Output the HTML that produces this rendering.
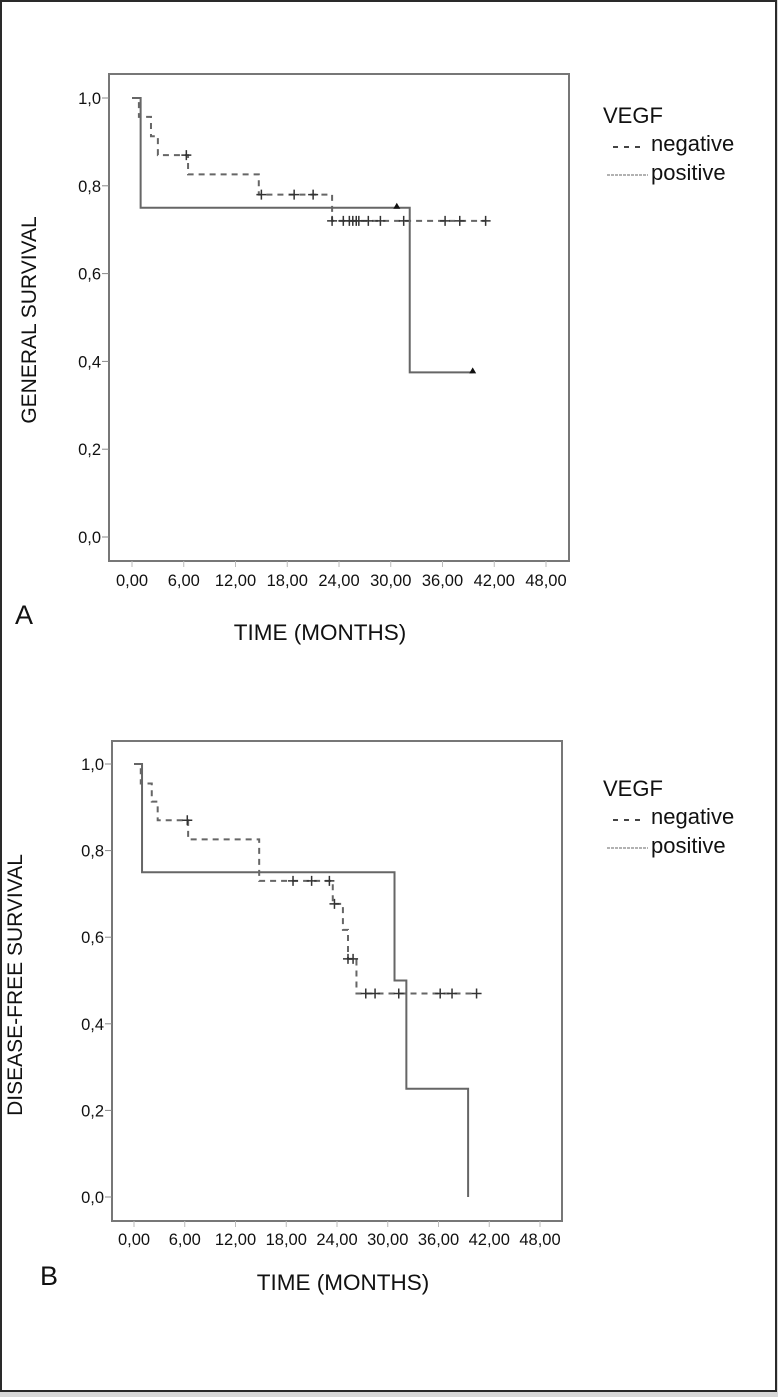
<!DOCTYPE html>
<html><head><meta charset="utf-8">
<style>
html,body{margin:0;padding:0;background:#d8d8d8;}
#wrap{position:relative;width:778px;height:1397px;}
svg{position:absolute;left:0;top:0;font-family:"Liberation Sans",Arial,sans-serif;}
</style></head>
<body>
<div id="wrap">
<svg id="fig" width="778" height="1397" viewBox="0 0 778 1397">
<rect x="1" y="1" width="775" height="1390" fill="#fff" stroke="#2a2a2a" stroke-width="2"/>
</svg>
</div>
<script>
// Shared axis data
const xTicks = [0,6,12,18,24,30,36,42,48];
const xTickLabels = ["0,00","6,00","12,00","18,00","24,00","30,00","36,00","42,00","48,00"];
const yTicks = [0,0.2,0.4,0.6,0.8,1.0];
const yTickLabels = ["0,0","0,2","0,4","0,6","0,8","1,0"];
// Panel A data
const aNegTimes = [0, 0.8, 2.2, 3.0, 6.5, 14.7, 23.2];
const aNegSurv  = [1.0, 0.957, 0.913, 0.87, 0.826, 0.78, 0.72];
const aNegEnd = 41;
const aNegCensorT = [6.3, 15, 18.8, 21, 23.2, 24.5, 25.2, 25.6, 26, 26.3, 27.4, 28.8, 31.5, 36.3, 38, 41];
const aPosTimes = [0, 1.0, 32.2];
const aPosSurv  = [1.0, 0.75, 0.375];
const aPosEnd = 39.5;
const aPosCensorT = [30.7, 39.5];
// Panel B data
const bNegTimes = [0, 0.8, 2.1, 2.8, 6.4, 14.8, 23.5, 24.7, 25.3, 26.3];
const bNegSurv  = [1.0, 0.955, 0.913, 0.87, 0.826, 0.73, 0.677, 0.617, 0.55, 0.47];
const bNegEnd = 40.5;
const bNegCensorT = [6.3, 18.8, 21, 23.1, 23.7, 25.3, 25.9, 27.4, 28.5, 31.3, 36.2, 37.6, 40.5];
const bPosTimes = [0, 0.95, 30.8, 32.2, 39.5];
const bPosSurv  = [1.0, 0.75, 0.5, 0.25, 0.0];
const bPosEnd = 39.5;
const bPosCensorT = [];

const NS="http://www.w3.org/2000/svg";
const svg=document.getElementById('fig');
function mk(tag,attrs,parent){const e=document.createElementNS(NS,tag);for(const k in attrs)e.setAttribute(k,attrs[k]);(parent||svg).appendChild(e);return e;}

function panel(cfg){
  const g=mk('g',{});
  
  
  const X=t=>cfg.x0+(cfg.x48-cfg.x0)*t/48;
  const Y=v=>cfg.y0+(cfg.y1-cfg.y0)*v;
  const box=mk('rect',{x:cfg.bx,y:cfg.by,width:cfg.bw,height:cfg.bh,fill:'none',stroke:'#777',"stroke-width":2},g);
  
  
  yTicks.forEach((v,i)=>{
    const tk=mk('line',{x1:cfg.bx-7,x2:cfg.bx,y1:Y(v),y2:Y(v),stroke:'#888','stroke-width':1},g);
    
    
    const t=mk('text',{x:cfg.bx-8,y:Y(v)+6,'font-size':16.5,'text-anchor':'end',fill:'#111'},g);
    t.textContent=yTickLabels[i];
    
    
  });
  xTicks.forEach((v,i)=>{
    const tk=mk('line',{x1:X(v),x2:X(v),y1:cfg.by+cfg.bh,y2:cfg.by+cfg.bh+6,stroke:'#bbb','stroke-width':1},g);
    
    
    const t=mk('text',{x:X(v),y:cfg.by+cfg.bh+cfg.lblOff,'font-size':16.5,'text-anchor':'middle',fill:'#111'},g);
    t.textContent=xTickLabels[i];
    
    
  });
  function step(times,surv,end,dash,name){
    let d='M'+X(times[0])+' '+Y(surv[0]);
    for(let i=1;i<times.length;i++){d+=' H'+X(times[i])+' V'+Y(surv[i]);}
    d+=' H'+X(end);
    const p=mk('path',{d:d,fill:'none',stroke:'#666','stroke-width':2,'stroke-dasharray':dash?'6 5':'none'},g);
    
    
  }
  function survAt(times,surv,t){let s=surv[0];for(let i=0;i<times.length;i++){if(times[i]<=t)s=surv[i];}return s;}
  step(cfg.negT,cfg.negS,cfg.negE,true,'negative-curve');
  step(cfg.posT,cfg.posS,cfg.posE,false,'positive-curve');
  cfg.negC.forEach(t=>{
    const x=X(t),y=Y(survAt(cfg.negT,cfg.negS,t));
    const c=mk('path',{d:`M${x-5} ${y} H${x+5} M${x} ${y-5} V${y+5}`,stroke:'#333','stroke-width':1.5},g);
    
    
  });
  cfg.posC.forEach(t=>{
    const x=X(t),y=Y(survAt(cfg.posT,cfg.posS,t));
    const c=mk('path',{d:`M${x-3.5} ${y+1} L${x} ${y-5} L${x+3.5} ${y+1} Z`,fill:'#111'},g);
    
    
  });
  const yt=mk('text',{x:0,y:0,'font-size':21,'text-anchor':'middle',fill:'#111',transform:`translate(${cfg.ytx},${cfg.yty}) rotate(-90)`},g);
  yt.textContent=cfg.ytitle;
  
  
  const xt=mk('text',{x:cfg.xtx,y:cfg.xty,'font-size':22.5,'text-anchor':'middle',fill:'#111'},g);
  xt.textContent='TIME (MONTHS)';
  
  
  const pl=mk('text',{x:cfg.plx,y:cfg.ply,'font-size':27,fill:'#111'},g);
  pl.textContent=cfg.letter;
  
  
  const lt=mk('text',{x:cfg.lgx,y:cfg.lgy,'font-size':22,fill:'#111'},g);
  lt.textContent='VEGF';
  
  
  const l1=mk('line',{x1:cfg.lgx+10,x2:cfg.lgx+40,y1:cfg.lgy+24,y2:cfg.lgy+24,stroke:'#444','stroke-width':2,'stroke-dasharray':'5 6'},g);
  
  
  const t1=mk('text',{x:cfg.lgx+48,y:cfg.lgy+28,'font-size':22,fill:'#111'},g);
  t1.textContent='negative';
  
  
  const l2=mk('line',{x1:cfg.lgx+4,x2:cfg.lgx+45,y1:cfg.lgy+52,y2:cfg.lgy+52,stroke:'#999','stroke-width':1.5,'stroke-dasharray':'3 1'},g);
  
  
  const t2=mk('text',{x:cfg.lgx+48,y:cfg.lgy+57,'font-size':22,fill:'#111'},g);
  t2.textContent='positive';
  
  
}

panel({name:'panel-a-general-survival',bx:109,by:74,bw:460,bh:487,x0:132,x48:546,y0:537,y1:98,lblOff:25,
  negT:aNegTimes,negS:aNegSurv,negE:aNegEnd,negC:aNegCensorT,posT:aPosTimes,posS:aPosSurv,posE:aPosEnd,posC:aPosCensorT,
  ytitle:'GENERAL SURVIVAL',ytx:36,yty:320,xtx:320,xty:640,letter:'A',plx:15,ply:624,lgx:603,lgy:123});
panel({name:'panel-b-disease-free-survival',bx:112,by:741,bw:450,bh:480,x0:134,x48:540,y0:1197,y1:764,lblOff:24,
  negT:bNegTimes,negS:bNegSurv,negE:bNegEnd,negC:bNegCensorT,posT:bPosTimes,posS:bPosSurv,posE:bPosEnd,posC:bPosCensorT,
  ytitle:'DISEASE-FREE SURVIVAL',ytx:22,yty:985,xtx:343,xty:1290,letter:'B',plx:40,ply:1285,lgx:603,lgy:796});
</script>
</body></html>
